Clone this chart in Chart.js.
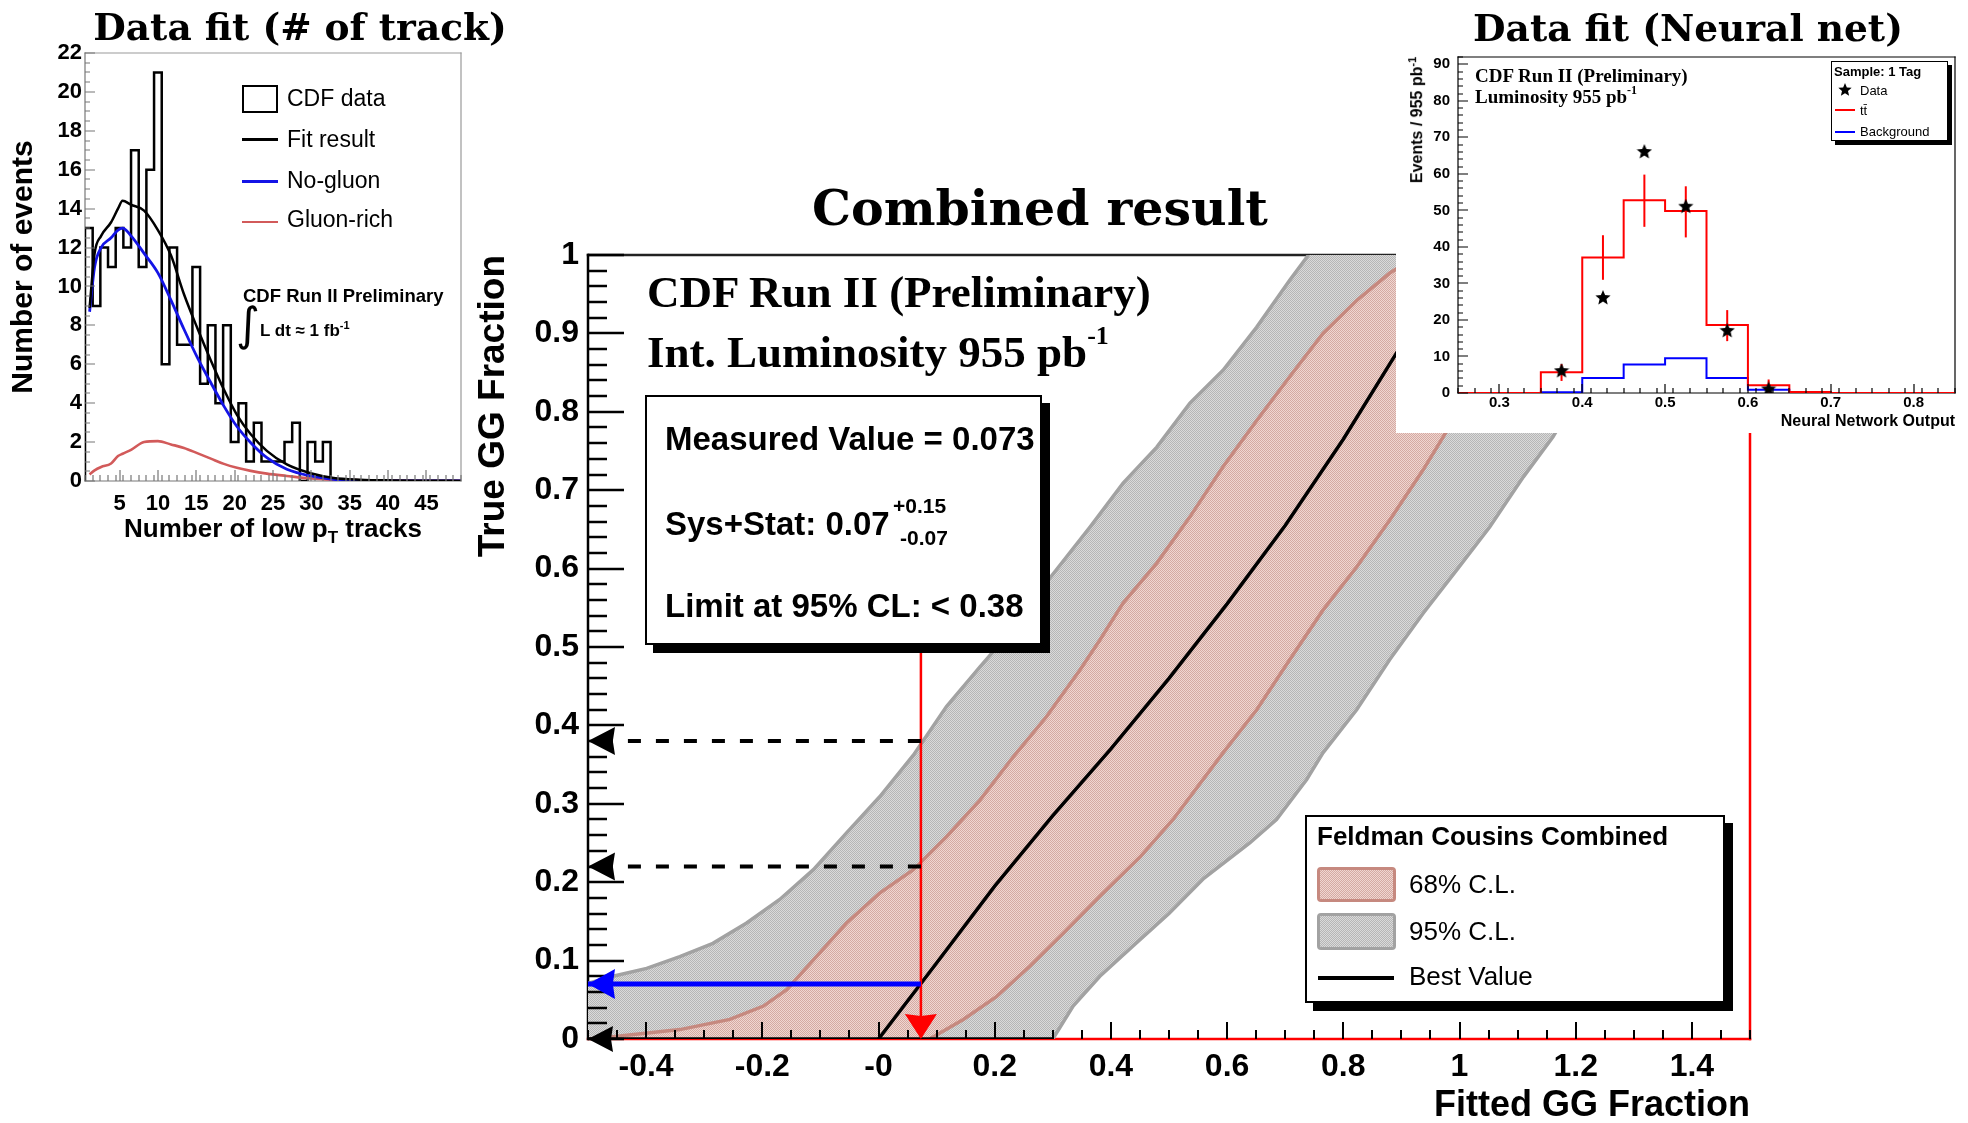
<!DOCTYPE html>
<html><head><meta charset="utf-8">
<script src="https://cdn.jsdelivr.net/npm/chart.js@4.4.0/dist/chart.umd.min.js"></script>
<style>
html,body{margin:0;padding:0;background:#fff}
body{position:relative;width:1968px;height:1123px;overflow:hidden;font-family:'Liberation Sans',Arial,sans-serif}
canvas{position:absolute;display:block}
.tx{position:absolute;white-space:nowrap;line-height:1;color:#000}
.ser{font-family:'DejaVu Serif',serif;font-weight:bold}
.tim{font-family:'Liberation Serif','Times New Roman',serif;font-weight:bold}
.sans{font-family:'Liberation Sans',Arial,sans-serif}
.dv{font-family:'DejaVu Sans',sans-serif}
.b{font-weight:bold}
.box{position:absolute;box-sizing:border-box;background:#fff;border:2px solid #000}
.sw{position:absolute;box-sizing:border-box;border-radius:4px}
</style></head>
<body>
<canvas id="cMain" width="1340" height="963" style="left:428px;top:160px"></canvas>
<canvas id="cLeft" width="515" height="560" style="left:0;top:0"></canvas>
<div id="rightPanel" style="position:absolute;left:1396px;top:0;width:572px;height:433px;background:#fff">
  <canvas id="cRight" width="572" height="433" style="left:0;top:0"></canvas>
</div>
<script>
// ================= DATA =================
// Left panel: number of low-pT tracks (bins centred on integers)
const trackBins = [1,2,3,4,5,6,7,8,9,10,11,12,13,14,15,16,17,18,19,20,21,22,23,24,25,26,27,28,29,30,31,32,33,34,35,36,37,38,39,40,41,42,43,44,45,46,47,48,49];
const trackCounts = [13,9,12,11,13,12,17,11,16,21,6,12,7,7,11,5,8,4,8,2,4,1,3,1,1,1,2,3,0,2,1,2,0,0,0,0,0,0,0,0,0,0,0,0,0,0,0,0,0];
const fitX      = [1.1,1.75,2.6,3.9,4.8,5.4,6.5,8.2,10.0,11.7,13.4,15.2,16.9,18.6,20.3,22.1,24.2,26.8,29.9,32.9,36.3,40.7,45,49.5];
const fitResult = [8.9,11.7,12.6,13.3,14.0,14.4,14.2,13.9,12.9,11.6,9.6,7.8,6.2,4.7,3.4,2.4,1.55,0.85,0.4,0.16,0.07,0.03,0.015,0.005];
const noGluon   = [8.7,11.0,12.0,12.5,12.9,13.0,12.6,11.7,10.7,9.3,7.8,6.3,5.05,3.85,2.8,1.97,1.2,0.6,0.26,0.09,0.03,0.01,0.005,0];
const gluonRich = [0.34,0.55,0.72,0.9,1.28,1.4,1.6,2.0,2.05,1.88,1.7,1.42,1.15,0.88,0.68,0.52,0.38,0.26,0.13,0.07,0.04,0.02,0.01,0.005];
const leftXTicks = [5,10,15,20,25,30,35,40,45];
const leftXLabels = ['5','10','15','20','25','30','35','40','45'];
const leftYTicks = [0,2,4,6,8,10,12,14,16,18,20,22];
const leftYLabels = ['0','2','4','6','8','10','12','14','16','18','20','22'];

// Right panel: neural network output
const nnBinEdges = [0.25,0.30,0.35,0.40,0.45,0.50,0.55,0.60,0.65,0.70,0.75,0.80,0.85];
const ttbarPred  = [0,0,5.7,37.1,52.8,49.8,18.6,2.1,0.3,0,0,0];
const bkgPred    = [0,0,0.2,4.1,7.8,9.5,4.1,0.9,0.1,0,0,0];
const nnDataX    = [0.375,0.425,0.475,0.525,0.575,0.625];
const nnDataY    = [6,26,66,51,17,1];
const nnErrLow   = [3.3,31,45.5,42.6,14.2,0];
const nnErrHigh  = [7.9,43.2,59.8,56.6,22.7,3.7];
const nnXTicks = [0.3,0.4,0.5,0.6,0.7,0.8];
const nnXLabels = ['0.3','0.4','0.5','0.6','0.7','0.8'];
const nnYTicks = [0,10,20,30,40,50,60,70,80,90];
const nnYLabels = ['0','10','20','30','40','50','60','70','80','90'];

// Centre panel: Feldman-Cousins belts
const cl95UpperX = [-0.5,-0.457,-0.399,-0.342,-0.285,-0.227,-0.170,-0.112,-0.055,0.002,0.060,0.117,0.175,0.215,0.295,0.364,0.421,0.479,0.536,0.593,0.651,0.708,0.740];
const cl95UpperY = [0.071,0.080,0.090,0.105,0.122,0.148,0.178,0.216,0.263,0.309,0.362,0.424,0.475,0.509,0.588,0.653,0.709,0.755,0.811,0.853,0.908,0.968,1.0];
const cl95LowerX = [0.300,0.335,0.381,0.44,0.50,0.56,0.639,0.685,0.737,0.765,0.823,0.880,0.9375,0.995,1.052,1.110,1.161,1.21,1.26,1.31,1.35];
const cl95LowerY = [0.0,0.042,0.080,0.120,0.160,0.205,0.250,0.280,0.331,0.365,0.420,0.484,0.543,0.598,0.653,0.717,0.768,0.83,0.89,0.95,1.0];
const cl68UpperX = [-0.5,-0.457,-0.342,-0.256,-0.198,-0.158,-0.112,-0.055,0.002,0.060,0.117,0.175,0.232,0.289,0.347,0.381,0.421,0.479,0.536,0.593,0.651,0.708,0.765,0.823,0.880,0.93];
const cl68UpperY = [0.0,0.003,0.012,0.025,0.042,0.063,0.101,0.148,0.186,0.216,0.258,0.305,0.360,0.411,0.471,0.509,0.556,0.607,0.666,0.730,0.789,0.845,0.900,0.942,0.977,1.0];
const cl68LowerX = [0.088,0.146,0.203,0.261,0.318,0.381,0.45,0.507,0.593,0.651,0.708,0.765,0.823,0.880,0.9375,0.972,1.03,1.09,1.15,1.17];
const cl68LowerY = [0.0,0.025,0.054,0.093,0.135,0.182,0.232,0.280,0.365,0.420,0.484,0.547,0.602,0.662,0.726,0.768,0.84,0.91,0.98,1.0];
const bestX = [0,0.1,0.2,0.3,0.4,0.5,0.6,0.7,0.8,0.9,1.0];
const bestY = [0,0.097,0.195,0.285,0.37,0.46,0.555,0.655,0.765,0.885,1.0];
const measuredFit = 0.073;   // fitted GG fraction (red line)
const measuredTrue = 0.07;   // blue arrow
const upper68 = 0.22, upper95 = 0.38;
const fcXMin = -0.5, fcXMax = 1.5, fcYMin = 0, fcYMax = 1;
const fcXTicks = [-0.4,-0.2,0,0.2,0.4,0.6,0.8,1,1.2,1.4];
const fcXLabels = ['-0.4','-0.2','-0','0.2','0.4','0.6','0.8','1','1.2','1.4'];
const fcYTicks = [0,0.1,0.2,0.3,0.4,0.5,0.6,0.7,0.8,0.9,1];
const fcYLabels = ['0','0.1','0.2','0.3','0.4','0.5','0.6','0.7','0.8','0.9','1'];

// ================= HELPERS =================
const pts = (xs, ys) => xs.map((x, i) => ({x, y: ys[i]}));
const stepPts = (edges, vals) => { const p = vals.map((v, i) => ({x: edges[i], y: v})); p.push({x: edges[edges.length - 1], y: vals[vals.length - 1]}); return p; };
function T(html, x, base, fs, cls, align) {
  const d = document.createElement('div');
  d.className = 'tx ' + (cls || '');
  d.style.fontSize = fs + 'px';
  d.innerHTML = html;
  d.style.left = x + 'px';
  d.style.top = (base - 0.845 * fs) + 'px';
  if (align === 'center') d.style.transform = 'translateX(-50%)';
  else if (align === 'right') d.style.transform = 'translateX(-100%)';
  document.body.appendChild(d);
  return d;
}
function S(txt, fs, raise) { return `<span style="font-size:${fs}px;position:relative;top:${-raise}px">${txt}</span>`; }
function TR(html, cx, endY, fs, cls) {
  const d = T(html, 0, 0, fs, cls);
  const w = d.offsetWidth, h = d.offsetHeight;
  d.style.left = (cx - w / 2) + 'px';
  d.style.top = (endY + w / 2 - h / 2) + 'px';
  d.style.transform = 'rotate(-90deg)';
  return d;
}
function box(x, y, w, h, style) {
  const d = document.createElement('div');
  d.className = 'box';
  d.style.cssText += `left:${x}px;top:${y}px;width:${w}px;height:${h}px;` + (style || '');
  document.body.appendChild(d);
  return d;
}
function checker(ctx, c1, c2) {
  const p = document.createElement('canvas'); p.width = 2; p.height = 2;
  const g = p.getContext('2d');
  g.fillStyle = c1; g.fillRect(0, 0, 2, 2);
  g.fillStyle = c2; g.fillRect(0, 0, 1, 1); g.fillRect(1, 1, 1, 1);
  return ctx.createPattern(p, 'repeat');
}
function starCanvas(size) {
  const c = document.createElement('canvas'); c.width = c.height = size;
  const g = c.getContext('2d'); g.fillStyle = '#000';
  const R = size / 2, r = R * 0.45;
  g.beginPath();
  for (let i = 0; i < 10; i++) {
    const a = -Math.PI / 2 + i * Math.PI / 5, rad = i % 2 ? r : R;
    g.lineTo(R + rad * Math.cos(a), R + rad * Math.sin(a));
  }
  g.closePath(); g.fill();
  return c;
}

// ================= PLUGINS =================
const frameTicks = {
  id: 'frameTicks',
  beforeDatasetsDraw(chart, args, o) {
    const f = o && o.frame; if (!f) return;
    const {ctx, chartArea: a} = chart;
    ctx.save(); ctx.lineWidth = f.width; ctx.lineCap = 'square';
    const seg = (c, x1, y1, x2, y2) => { ctx.strokeStyle = c; ctx.beginPath(); ctx.moveTo(x1, y1); ctx.lineTo(x2, y2); ctx.stroke(); };
    seg(f.top, a.left, a.top, a.right, a.top);
    seg(f.right, a.right, a.top, a.right, a.bottom);
    seg(f.bottom, a.left, a.bottom, a.right, a.bottom);
    seg(f.left, a.left, a.top, a.left, a.bottom);
    ctx.restore();
  },
  afterDatasetsDraw(chart, args, o) {
    if (!o) return;
    const {ctx, chartArea: a} = chart;
    ['x', 'y'].forEach(k => {
      const t = o[k]; if (!t) return;
      const s = chart.scales[k];
      const n = Math.round((s.max - s.min) / t.minorStep);
      ctx.save(); ctx.strokeStyle = t.color; ctx.lineWidth = t.width; ctx.beginPath();
      const mark = (v, len) => {
        const p = Math.round(s.getPixelForValue(v));
        if (k === 'x') { ctx.moveTo(p, a.bottom); ctx.lineTo(p, a.bottom - len); }
        else { ctx.moveTo(a.left, p); ctx.lineTo(a.left + len, p); }
      };
      for (let i = 0; i <= n; i++) {
        const v = s.min + i * t.minorStep;
        if (!t.major.some(m => Math.abs(m - v) < 1e-6)) mark(v, t.minLen);
      }
      t.major.forEach(v => mark(v, t.majLen));
      ctx.stroke(); ctx.restore();
    });
  }
};
const arrowHeads = {
  id: 'arrowHeads',
  afterDatasetsDraw(chart) {
    const ctx = chart.ctx;
    chart.data.datasets.forEach((ds, i) => {
      if (!ds.arrowHead) return;
      const p = chart.getDatasetMeta(i).data;
      const tip = p[p.length - 1], from = p[p.length - 2];
      const ang = Math.atan2(tip.y - from.y, tip.x - from.x);
      const L = ds.arrowHead.length, W = ds.arrowHead.half;
      ctx.save(); ctx.fillStyle = ds.borderColor;
      ctx.translate(tip.x, tip.y); ctx.rotate(ang);
      ctx.beginPath(); ctx.moveTo(0, 0); ctx.lineTo(-L, -W); ctx.lineTo(-L * 0.92, 0); ctx.lineTo(-L, W); ctx.closePath(); ctx.fill();
      ctx.restore();
    });
  }
};
Chart.register(frameTicks, arrowHeads);
Chart.defaults.font.family = "'Liberation Sans', Arial, sans-serif";
Chart.defaults.color = '#000';
Chart.defaults.animation = false;
Chart.defaults.elements.point.radius = 0;
Chart.defaults.elements.line.tension = 0;
Chart.defaults.plugins.legend.display = false;
Chart.defaults.plugins.tooltip.enabled = false;

function axis(min, max, tickVals, tickLabels, fontSize, pad, fit, extra) {
  return Object.assign({
    type: 'linear', min, max,
    afterBuildTicks: s => { s.ticks = tickVals.map(v => ({value: v})); },
    ticks: {autoSkip: false, maxRotation: 0, padding: pad, color: '#000', font: {size: fontSize, weight: 'bold'}, callback: (v, i) => tickLabels[i]},
    grid: {display: false, drawTicks: false}, border: {display: false},
    afterFit: fit
  }, extra || {});
}

// ================= CENTRE CHART =================
const mainCanvas = document.getElementById('cMain');
const mctx = mainCanvas.getContext('2d');
const grayPat = checker(mctx, '#dadada', '#b6b6b6');
const pinkPat = checker(mctx, '#f0d6d1', '#d4aaa2');
const grayEdge = '#a2a2a2', pinkEdge = '#c6897f';

const fill95 = [{x: fcXMin, y: fcYMin}].concat(pts(cl95UpperX, cl95UpperY), pts(cl95LowerX, cl95LowerY).reverse());
const fill68 = pts(cl68UpperX, cl68UpperY).concat(pts(cl68LowerX, cl68LowerY).reverse());

new Chart(mainCanvas, {
  type: 'line',
  data: {datasets: [
    {label: 'zero', data: [{x: cl95LowerX[0], y: fcYMin}, {x: fcXMin, y: fcYMin}], borderColor: '#000', borderWidth: 3.5, order: 2, arrowHead: {length: 25, half: 13}},
    {label: 'true', data: [{x: measuredFit, y: measuredTrue}, {x: fcXMin, y: measuredTrue}], borderColor: '#0000ff', borderWidth: 5, order: 3, arrowHead: {length: 27, half: 15}},
    {label: 'up95', data: [{x: measuredFit, y: upper95}, {x: fcXMin, y: upper95}], borderColor: '#000', borderWidth: 4, borderDash: [13, 15], order: 4, arrowHead: {length: 27, half: 14}},
    {label: 'up68', data: [{x: measuredFit, y: upper68}, {x: fcXMin, y: upper68}], borderColor: '#000', borderWidth: 4, borderDash: [13, 15], order: 4, arrowHead: {length: 27, half: 14}},
    {label: 'meas', data: [{x: measuredFit, y: 0.5}, {x: measuredFit, y: fcYMin}], borderColor: '#ff0000', borderWidth: 2.5, order: 5, arrowHead: {length: 25, half: 16}},
    {label: 'Best Value', data: pts(bestX, bestY), borderColor: '#000', borderWidth: 3.5, order: 8},
    {label: 'e68u', data: pts(cl68UpperX, cl68UpperY), borderColor: pinkEdge, borderWidth: 3.5, order: 9},
    {label: 'e68l', data: pts(cl68LowerX, cl68LowerY), borderColor: pinkEdge, borderWidth: 3.5, order: 9},
    {label: '68% C.L.', data: fill68, borderColor: 'rgba(0,0,0,0)', borderWidth: 0, backgroundColor: pinkPat, fill: 'shape', order: 10},
    {label: 'e95u', data: pts(cl95UpperX, cl95UpperY), borderColor: grayEdge, borderWidth: 3.5, order: 11},
    {label: 'e95l', data: pts(cl95LowerX, cl95LowerY), borderColor: grayEdge, borderWidth: 3.5, order: 11},
    {label: '95% C.L.', data: fill95, borderColor: 'rgba(0,0,0,0)', borderWidth: 0, backgroundColor: grayPat, fill: 'shape', order: 12}
  ]},
  options: {
    responsive: false, devicePixelRatio: 1,
    layout: {padding: {left: 0, right: 18, top: 95, bottom: 0}},
    scales: {
      x: axis(fcXMin, fcXMax, fcXTicks, fcXLabels, 32, 9, s => { s.height = 84; },
        {position: 'bottom', title: {display: true, text: 'Fitted GG Fraction', align: 'end', color: '#000', font: {size: 36, weight: 'bold'}, padding: {top: 0, bottom: -5}}}),
      y: axis(fcYMin, fcYMax, fcYTicks, fcYLabels, 32, 9, s => { s.width = 160; },
        {position: 'left', title: {display: true, text: 'True GG Fraction', align: 'end', color: '#000', font: {size: 37, weight: 'bold'}, padding: {top: 44, bottom: 0}}})
    },
    plugins: {
      frameTicks: {
        frame: {left: '#000', top: '#222', right: '#ff0000', bottom: '#ff0000', width: 2.5},
        x: {major: fcXTicks, minorStep: 0.05, majLen: 17, minLen: 9, color: '#000', width: 2},
        y: {major: fcYTicks, minorStep: 0.02, majLen: 36, minLen: 19, color: '#000', width: 2.5}
      }
    }
  }
});

// ================= LEFT CHART =================
const histPts = [{x: trackBins[0] - 0.5, y: 0}].concat(stepPts(trackBins.map(b => b - 0.5).concat([trackBins[trackBins.length - 1] + 0.5]), trackCounts));
new Chart(document.getElementById('cLeft'), {
  type: 'line',
  data: {datasets: [
    {label: 'Fit result', data: pts(fitX, fitResult), borderColor: '#000', borderWidth: 2.5, cubicInterpolationMode: 'monotone', order: 1},
    {label: 'No-gluon', data: pts(fitX, noGluon), borderColor: '#1414e6', borderWidth: 2.8, cubicInterpolationMode: 'monotone', order: 2},
    {label: 'Gluon-rich', data: pts(fitX, gluonRich), borderColor: '#d25a5a', borderWidth: 2.6, cubicInterpolationMode: 'monotone', order: 3},
    {label: 'CDF data', data: histPts, borderColor: '#000', borderWidth: 2.5, stepped: true, order: 4}
  ]},
  options: {
    responsive: false, devicePixelRatio: 1,
    layout: {padding: {left: 0, right: 54, top: 53, bottom: 0}},
    scales: {
      x: axis(0.5, 49.5, leftXTicks, leftXLabels, 22, 10, s => { s.height = 79; }, {position: 'bottom'}),
      y: axis(0, 22, leftYTicks, leftYLabels, 22, 3, s => { s.width = 85; },
        {position: 'left', title: {display: true, text: 'Number of events', align: 'center', color: '#000', font: {size: 30, weight: 'bold'}, padding: {top: 6, bottom: 0}}})
    },
    plugins: {
      frameTicks: {
        frame: {left: '#777', top: '#999', right: '#999', bottom: '#777', width: 1.2},
        x: {major: leftXTicks, minorStep: 1, majLen: 11, minLen: 6, color: '#777', width: 1.2},
        y: {major: leftYTicks, minorStep: 0.5, majLen: 10, minLen: 5, color: '#777', width: 1.2}
      }
    }
  }
});

// ================= RIGHT CHART =================
const starImg = starCanvas(16);
const errSets = nnDataX.map((x, i) => ({label: 'err' + i, data: [{x, y: nnErrLow[i]}, {x, y: nnErrHigh[i]}], borderColor: '#ff0000', borderWidth: 2, order: 2}));
new Chart(document.getElementById('cRight'), {
  type: 'line',
  data: {datasets: [
    {label: 'Data', data: pts(nnDataX, nnDataY), showLine: false, pointStyle: starImg, pointRadius: 7, order: 1},
    ...errSets,
    {label: 't\u0074\u0304', data: stepPts(nnBinEdges, ttbarPred), borderColor: '#ff0000', borderWidth: 2, stepped: true, order: 3},
    {label: 'Background', data: stepPts(nnBinEdges, bkgPred), borderColor: '#0000ff', borderWidth: 2, stepped: true, order: 4}
  ]},
  options: {
    responsive: false, devicePixelRatio: 1,
    layout: {padding: {left: 0, right: 13, top: 57, bottom: 0}},
    scales: {
      x: axis(0.25, 0.85, nnXTicks, nnXLabels, 15, 1, s => { s.height = 40; },
        {position: 'bottom', title: {display: true, text: 'Neural Network Output', align: 'end', color: '#000', font: {size: 16, weight: 'bold'}, padding: {top: 0, bottom: 2}}}),
      y: axis(0, 92, nnYTicks, nnYLabels, 15, 8, s => { s.width = 62; }, {position: 'left'})
    },
    plugins: {
      frameTicks: {
        frame: {left: '#000', top: '#000', right: '#000', bottom: '#000', width: 1.2},
        x: {major: nnXTicks, minorStep: 0.02, majLen: 9, minLen: 5, color: '#000', width: 1.2},
        y: {major: nnYTicks, minorStep: 2, majLen: 10, minLen: 5, color: '#000', width: 1.2}
      }
    }
  }
});

// ================= TEXT & BOXES =================
// Titles
T('Data fit (# of track)', 300, 41, 37.5, 'ser', 'center');
T('Data fit (Neural net)', 1688, 42, 37.5, 'ser', 'center');
T('Combined result', 1040, 225, 49, 'ser', 'center');

// Left panel annotations
box(242, 85, 36, 28, 'border-width:2.5px;background:transparent');
const ln = (x, y, w, h, c) => { const d = document.createElement('div'); d.style.cssText = `position:absolute;left:${x}px;top:${y}px;width:${w}px;height:${h}px;background:${c}`; document.body.appendChild(d); };
ln(242, 137.5, 36, 3, '#000');
ln(242, 179.5, 36, 3, '#1414e6');
ln(242, 220.5, 36, 2.5, '#d25a5a');
T('CDF data', 287, 106.5, 23, 'sans');
T('Fit result', 287, 147, 23, 'sans');
T('No-gluon', 287, 188, 23, 'sans');
T('Gluon-rich', 287, 227, 23, 'sans');
T('CDF Run II Preliminary', 243, 302.5, 18.5, 'sans b');
T('\u222B', 236, 340, 46, 'dv');
T('L dt \u2248 1 fb' + S('-1', 11, 7), 260, 336, 17, 'sans b');
T('Number of low p' + S('T', 17, -6) + ' tracks', 273, 537, 26, 'sans b', 'center');

// Right panel annotations
T('CDF Run II (Preliminary)', 1475, 82, 19, 'tim');
T('Luminosity 955 pb' + S('-1', 12, 9), 1475, 103.5, 19, 'tim');
TR('Events / 955 pb' + S('-1', 11, 6), 1417, 57, 16, 'sans b');
box(1831, 61, 117, 80, 'border-width:1.5px;box-shadow:4px 4px 0 #000');
T('Sample: 1 Tag', 1834, 76, 13, 'sans b');
const legStar = starCanvas(14); legStar.style.cssText = 'position:absolute;left:1838px;top:83px'; document.body.appendChild(legStar);
T('Data', 1860, 94.5, 13, 'sans');
ln(1835, 109, 20, 2, '#ff0000');
T('t\u0074\u0304', 1860, 114.5, 13, 'sans');
ln(1835, 130.5, 20, 2, '#0000ff');
T('Background', 1860, 136, 13, 'sans');

// Centre panel annotations
T('CDF Run II (Preliminary)', 647, 308, 45, 'tim');
T('Int. Luminosity 955 pb' + S('-1', 26, 23), 647, 368, 45, 'tim');
box(645, 395, 397, 250, 'box-shadow:8px 8px 0 #000');
T('Measured Value = 0.073', 665, 450, 33, 'sans b');
T('Sys+Stat: 0.07', 665, 535, 33, 'sans b');
T('+0.15', 893, 513, 21, 'sans b');
T('-0.07', 900, 545, 21, 'sans b');
T('Limit at 95% CL: &lt; 0.38', 665, 617, 33, 'sans b');
box(1305, 815, 420, 188, 'box-shadow:8px 8px 0 #000');
T('Feldman Cousins Combined', 1317, 845, 26, 'sans b');
const sw = (y, h, edge, c1, c2) => { const d = document.createElement('div'); d.className = 'sw'; d.style.cssText += `left:1317px;top:${y}px;width:79px;height:${h}px;border:3px solid ${edge};background:repeating-conic-gradient(${c2} 0% 25%, ${c1} 0% 50%) 0 0/2px 2px`; document.body.appendChild(d); };
sw(867, 35, pinkEdge, '#f0d6d1', '#d4aaa2');
sw(913, 37, grayEdge, '#dadada', '#b6b6b6');
ln(1318, 976, 76, 4, '#000');
T('68% C.L.', 1409, 893, 26, 'sans');
T('95% C.L.', 1409, 940, 26, 'sans');
T('Best Value', 1409, 985, 26, 'sans');
</script>
</body></html>
